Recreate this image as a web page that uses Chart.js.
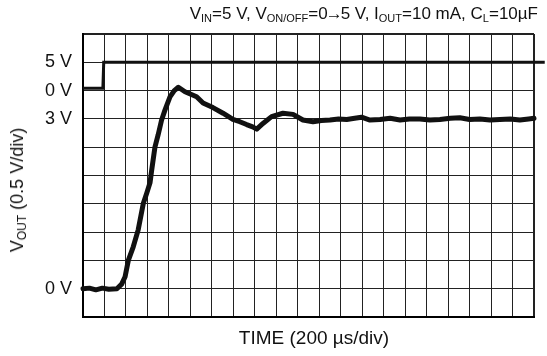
<!DOCTYPE html>
<html>
<head>
<meta charset="utf-8">
<script src="https://cdn.jsdelivr.net/npm/chart.js@4"></script>
<style>
  html, body { margin: 0; padding: 0; background: #fff; }
  #wrap { position: relative; width: 547px; height: 356px; font-family: "Liberation Sans", Arial, sans-serif; color: #111; }
  #chart { position: absolute; left: 0; top: 0; }
  .lbl { position: absolute; white-space: nowrap; font-size: 18px; line-height: 1; }
  .lbl sub { font-size: 12px; vertical-align: -3px; line-height: 0; }
  #title { right: 9px; top: 5px; font-size: 17px; }
  #title sub { font-size: 11px; }
  #title .arr { margin: 0 -2px; }
  #ytitle { left: 17px; top: 190px; transform: translate(-50%, -50%) rotate(-90deg); }
  #xtitle { left: 314px; top: 328px; transform: translateX(-50%); font-size: 19px; }
</style>
</head>
<body>
<div id="wrap">
  <canvas id="chart" width="547" height="356"></canvas>
  <div id="title" class="lbl">V<sub>IN</sub>=5 V, V<sub>ON/OFF</sub>=0<span class="arr">&rarr;</span>5 V, I<sub>OUT</sub>=10 mA, C<sub>L</sub>=10&micro;F</div>
  <div id="ytitle" class="lbl">V<sub>OUT</sub> (0.5 V/div)</div>
  <div id="xtitle" class="lbl">TIME (200 &micro;s/div)</div>
</div>
<script>
// VOUT trace, 0.5 V/div, time in us (200 us/div)
const timeUs = [0, 60, 120, 180, 240, 316, 360, 392, 422, 468, 514, 562, 594, 624, 640, 670, 700, 732, 764, 810, 850, 888,
  950, 1058, 1118, 1210, 1304, 1396, 1460, 1524, 1580, 1618, 1676, 1756, 1862, 1956, 2048, 2142, 2220, 2300, 2380, 2456,
  2530, 2594, 2672, 2766, 2860, 2952, 3040, 3138, 3230, 3324, 3420, 3510, 3600, 3696, 3790, 3882, 3980, 4068, 4150, 4200, 4300];
const voutV = [0.00, 0.01, -0.02, 0.01, -0.01, 0.00, 0.08, 0.21, 0.50, 0.74, 1.04, 1.51, 1.69, 1.87, 2.10, 2.50, 2.72, 2.98, 3.16, 3.39, 3.50, 3.56,
  3.48, 3.39, 3.28, 3.20, 3.10, 2.99, 2.95, 2.90, 2.86, 2.82, 2.92, 3.04, 3.10, 3.08, 2.98, 2.95, 2.97, 2.98, 3.00, 2.99,
  3.01, 3.03, 2.98, 2.99, 3.01, 2.98, 3.00, 3.00, 2.98, 2.99, 3.01, 3.02, 2.99, 3.00, 2.98, 2.99, 3.00, 2.98, 3.00, 3.01, 3.03];

// ON/OFF trace, 5 V/div
const ctrlTimeUs = [0, 185, 193, 4300];
const ctrlV = [0.4, 0.4, 5, 5];

// y tick labels (VOUT scale positions)
const yTickValues = [4, 3.5, 3, 0];
const yTickText = ['5 V', '0 V', '3 V', '0 V'];

const fontFamily = '"Liberation Sans", Arial, sans-serif';

const gridStyle = {
  color: '#222',
  lineWidth: 1,
  drawTicks: false
};

new Chart(document.getElementById('chart'), {
  type: 'line',
  data: {
    datasets: [
      {
        data: timeUs.map((t, i) => ({ x: t, y: voutV[i] })),
        borderColor: '#111',
        borderWidth: 5,
        borderJoinStyle: 'round',
        borderCapStyle: 'round',
        pointRadius: 0,
        clip: false,
        yAxisID: 'y'
      },
      {
        data: ctrlTimeUs.map((t, i) => ({ x: t, y: ctrlV[i] })),
        borderColor: '#111',
        borderWidth: 3,
        pointRadius: 0,
        clip: false,
        yAxisID: 'y2'
      }
    ]
  },
  options: {
    responsive: false,
    animation: false,
    layout: { padding: { top: 34, right: 13, left: 0, bottom: 0 } },
    plugins: { legend: { display: false }, tooltip: { enabled: false } },
    scales: {
      x: {
        type: 'linear',
        min: 0,
        max: 4200,
        ticks: { stepSize: 200, display: false },
        grid: { ...gridStyle, lineWidth: ctx => (ctx.tick && ctx.tick.value === 4200 ? 2 : 1) },
        border: { color: '#000', width: 2 },
        afterFit: s => { s.height = 39; }
      },
      y: {
        min: -0.5,
        max: 4.5,
        ticks: {
          stepSize: 0.5,
          padding: 11,
          color: '#111',
          font: { size: 18, family: fontFamily },
          callback: v => {
            const i = yTickValues.findIndex(t => Math.abs(t - v) < 1e-6);
            return i >= 0 ? yTickText[i] : '';
          }
        },
        grid: { ...gridStyle, lineWidth: ctx => (ctx.tick && ctx.tick.value === 4.5 ? 2 : 1) },
        border: { color: '#000', width: 2 },
        afterFit: s => { s.width = 83; }
      },
      y2: {
        display: false,
        min: -40,
        max: 10
      }
    }
  }
});
</script>
</body>
</html>
